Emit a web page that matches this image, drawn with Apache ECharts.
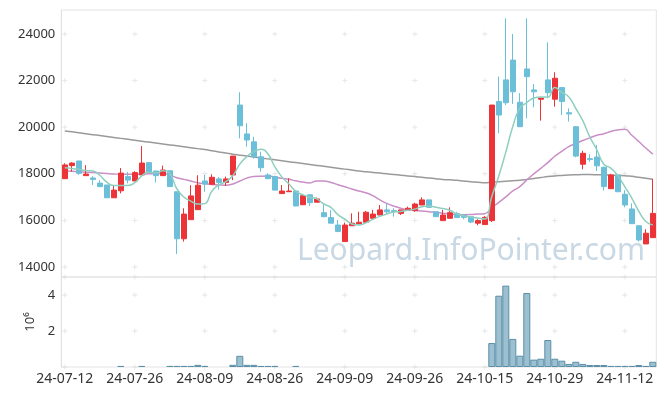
<!DOCTYPE html>
<html><head><meta charset="utf-8">
<script src="https://cdn.jsdelivr.net/npm/echarts@6.0.0/dist/echarts.min.js"></script>
<style>html,body{margin:0;padding:0;background:#fff}#c{width:665px;height:396px}</style>
</head><body><div id="c"></div>
<script>
const dates = ['24-07-12','24-07-15','24-07-16','24-07-17','24-07-18','24-07-19','24-07-22','24-07-23','24-07-24','24-07-25','24-07-26',
'24-07-29','24-07-30','24-07-31','24-08-01','24-08-02','24-08-05','24-08-06','24-08-07','24-08-08','24-08-09',
'24-08-12','24-08-13','24-08-14','24-08-16','24-08-19','24-08-20','24-08-21','24-08-22','24-08-23','24-08-26',
'24-08-27','24-08-28','24-08-29','24-08-30','24-09-02','24-09-03','24-09-04','24-09-05','24-09-06','24-09-09',
'24-09-10','24-09-11','24-09-12','24-09-13','24-09-19','24-09-20','24-09-23','24-09-24','24-09-25','24-09-26',
'24-09-27','24-09-30','24-10-02','24-10-04','24-10-07','24-10-08','24-10-10','24-10-11','24-10-14','24-10-15',
'24-10-16','24-10-17','24-10-18','24-10-21','24-10-22','24-10-23','24-10-24','24-10-25','24-10-28','24-10-29',
'24-10-30','24-10-31','24-11-01','24-11-04','24-11-05','24-11-06','24-11-07','24-11-08','24-11-11','24-11-12',
'24-11-13','24-11-14','24-11-15','24-11-18'];

const opens = [17790,18350,18550,17920,17820,17600,17520,16970,17270,17880,17690,17950,18480,18120,17920,18130,17230,15210,16030,16460,
17690,17550,17780,17630,17950,20950,19710,19370,18730,17950,17880,17150,17230,17260,16670,17100,16780,16330,16120,15800,
15090,15770,15850,15920,16090,16230,16450,16420,16300,16450,16420,16660,16880,16370,15990,16090,16300,16220,16160,15880,
15820,15990,21100,22030,22880,21070,22500,21600,21200,22030,21200,21700,20620,20020,18410,18650,18720,18280,17360,17950,
17120,16490,15770,14990,15260];
const closes = [18380,18460,18020,17990,17760,17450,16970,17300,18030,17730,18050,18460,18050,17920,18160,17450,15210,16270,17050,17510,
17560,17850,17630,17780,18760,20060,19450,18730,18260,17790,17300,17260,17260,16620,17060,16760,16920,16160,15880,15520,
15800,15880,15920,16350,16270,16450,16370,16380,16450,16520,16700,16880,16560,16160,16230,16330,16120,16130,15930,15990,
16130,20950,20520,21050,21520,20020,22170,21520,21250,21480,22100,21100,20570,18760,18880,18610,18340,17450,17950,17230,
16660,15860,15160,15450,16300];
const lows = [17790,18090,17950,17920,17520,17420,16970,16970,17160,17590,17690,17950,18050,17630,17920,17450,14560,15090,16030,16460,
17230,17550,17320,17480,17730,19520,19160,18650,18090,17790,17300,17150,17230,16600,16670,16620,16780,16130,15880,15520,
15090,15770,15830,15920,16090,16230,16300,16160,16230,16450,16370,16660,16560,16160,15990,16090,16120,16050,15880,15790,
15820,15930,19740,20950,21000,20020,20380,20850,20280,21240,20880,20520,20240,18710,18190,18520,18120,17280,17360,17230,
16560,15860,15090,14990,15250];
const highs = [18450,18500,18550,18370,17900,17730,17520,17480,18250,18080,18110,19190,18480,18120,18350,18130,17230,16520,17510,17940,
17950,17980,17860,17880,18760,21500,20170,19590,18950,18020,17880,17520,17810,17300,17060,17100,16980,16730,16450,16020,
15900,16300,16370,16400,16450,16660,16730,16520,16450,16590,16760,16990,16880,16370,16450,16560,16370,16270,16160,16050,
16180,20950,22170,24670,24000,21460,24670,21850,21250,23640,22360,21700,20810,20050,18990,18840,19240,18300,18000,17950,
17300,16730,15780,15620,17780];

const ma5 = [18260,18230,18190,18140,18122,17936,17638,17494,17502,17496,17616,17914,18064,18042,18128,18008,17358,17002,16828,16698,
16720,17248,17520,17666,17916,18416,18736,18956,19052,18858,18306,17868,17574,17246,17100,16992,16924,16704,16556,16248,
16056,15848,15800,15894,16044,16174,16272,16364,16384,16434,16484,16586,16622,16564,16506,16432,16280,16194,16148,16100,
16060,17026,17904,18928,20034,20812,21056,21256,21296,21288,21704,21490,21300,20802,20282,19584,19032,18408,18246,17916,
17448,16960,16392,15950,15800];
const ma20 = [18130,18110,18090,18070,18050,18030,18010,17990,17980,17980,17980,17990,18000,18010,18010,17950,17830,17760,17690,17611,
17570,17540,17520,17510,17560,17690,17814,17886,17897,17900,17863,17803,17763,17698,17643,17609,17694,17689,17630,17531,
17443,17344,17259,17187,17063,16882,16728,16611,16520,16457,16427,16408,16373,16350,16308,16287,16247,16245,16248,16271,
16288,16541,16771,17006,17269,17447,17737,17994,18234,18482,18752,18963,19164,19294,19426,19540,19651,19717,19818,19880,
19907,19652,19384,19104,18843];
const maLong = [19840,19800,19760,19720,19680,19640,19600,19560,19520,19480,19440,19400,19360,19320,19280,19240,19200,19160,19120,19080,
19040,18990,18940,18890,18840,18800,18760,18720,18680,18640,18600,18560,18520,18480,18440,18400,18360,18320,18280,18240,
18200,18160,18120,18090,18060,18030,18000,17970,17940,17910,17880,17850,17820,17790,17760,17740,17720,17690,17660,17640,
17620,17640,17660,17680,17700,17720,17760,17800,17840,17880,17910,17930,17950,17960,17965,17965,17960,17950,17940,17930,
17920,17890,17850,17810,17770];

const volumes = [0,0,0,0,0,0,0,0,0.06,0,0,0.06,0,0,0,0.06,0.06,0.06,0.06,0.12,
0.06,0,0,0,0.12,0.62,0.12,0.12,0.06,0.06,0.06,0,0,0.06,0,0,0,0,0,0,
0,0,0,0,0,0,0,0,0,0,0,0,0,0,0,0,0,0,0,0,
0,1.33,3.96,4.52,1.56,0.63,4.11,0.41,0.46,1.50,0.46,0.35,0.17,0.29,0.17,0.11,0.11,0.11,0.06,0.06,
0.06,0.06,0.11,0.06,0.29];

const priceTicks = [14000,16000,18000,20000,22000,24000];
const volTicks = [0,2,4,5];
const labelStep = 10;

const FONT = '"Noto Sans", sans-serif';
const candles = dates.map((d, i) => [opens[i], closes[i], lows[i], highs[i]]);
const volData = volumes.map(v => (v > 0 ? v : '-'));
const crossIdx = dates.map((d, i) => i).filter(i => i % labelStep === 0);
const crossMain = [], crossVol = [];
crossIdx.forEach(i => {
  priceTicks.forEach(v => crossMain.push([i, v]));
  volTicks.forEach(v => crossVol.push([i, v]));
});
const plus = 'path://M0,2.5H6V3.5H0Z M2.5,0H3.5V6H2.5Z';

const chart = echarts.init(document.getElementById('c'), null, {renderer: 'canvas'});
chart.setOption({
  animation: false,
  backgroundColor: '#fff',
  textStyle: {fontFamily: FONT},
  graphic: [{
    type: 'text', z: -10, silent: true,
    style: {x: 645, y: 251, text: 'Leopard.InfoPointer.com', align: 'right', verticalAlign: 'middle',
            font: '30px "Noto Sans", sans-serif', fill: '#c8d8e4'}
  }],
  grid: [
    {left: 61.3, top: 10, width: 595, height: 267, show: true, borderColor: '#e4e4e4', borderWidth: 1, outerBoundsMode: 'none', containLabel: false},
    {left: 61.3, top: 277, width: 595, height: 90, show: true, borderColor: '#e4e4e4', borderWidth: 1, outerBoundsMode: 'none', containLabel: false}
  ],
  xAxis: [
    {type: 'category', gridIndex: 0, data: dates, boundaryGap: true,
     axisLine: {show: false}, axisTick: {show: false}, axisLabel: {show: false}, splitLine: {show: false}},
    {type: 'category', gridIndex: 1, data: dates, boundaryGap: true,
     axisLine: {show: false}, axisTick: {show: false}, splitLine: {show: false},
     axisLabel: {interval: labelStep - 1, color: '#333', fontSize: 14, margin: 5, fontFamily: FONT}}
  ],
  yAxis: [
    {type: 'value', gridIndex: 0, min: 13570, max: 25030, splitNumber: 5, scale: true,
     axisLine: {show: true, lineStyle: {color: '#e0e0e0'}}, axisTick: {show: false}, splitLine: {show: false},
     axisLabel: {color: '#333', fontSize: 13, margin: 6, showMinLabel: false, showMaxLabel: false, fontFamily: FONT,
                 formatter: v => String(v)}},
    {type: 'value', gridIndex: 1, min: 0, max: 5, interval: 2,
     name: '10⁶', nameLocation: 'middle', nameRotate: 90, nameGap: 18,
     nameTextStyle: {color: '#333', fontSize: 13, fontFamily: FONT},
     axisLine: {show: true, lineStyle: {color: '#e0e0e0'}}, axisTick: {show: false}, splitLine: {show: false},
     axisLabel: {color: '#333', fontSize: 13, margin: 6, showMinLabel: false, showMaxLabel: false, fontFamily: FONT}}
  ],
  series: [
    {type: 'scatter', xAxisIndex: 0, yAxisIndex: 0, data: crossMain, symbol: plus, symbolSize: 5, silent: true, z: 1,
     itemStyle: {color: '#dcdcdc'}},
    {type: 'scatter', xAxisIndex: 1, yAxisIndex: 1, data: crossVol, symbol: plus, symbolSize: 5, silent: true, z: 1,
     itemStyle: {color: '#dcdcdc'}},
    {type: 'line', xAxisIndex: 0, yAxisIndex: 0, data: maLong, showSymbol: false, smooth: true, z: 3,
     lineStyle: {color: '#9a9a9a', width: 1.5}},
    {type: 'line', xAxisIndex: 0, yAxisIndex: 0, data: ma20, showSymbol: false, smooth: true, z: 3,
     lineStyle: {color: '#c98fc6', width: 1.5}},
    {type: 'candlestick', xAxisIndex: 0, yAxisIndex: 0, data: candles, barWidth: 5, z: 4,
     itemStyle: {color: '#ec3438', color0: '#6cbfd8', borderColor: '#ec3438', borderColor0: '#6cbfd8', borderWidth: 1}},
    {type: 'line', xAxisIndex: 0, yAxisIndex: 0, data: ma5, showSymbol: false, smooth: true, z: 5,
     lineStyle: {color: '#8fcfc0', width: 1.5}},
    {type: 'bar', xAxisIndex: 1, yAxisIndex: 1, data: volData, barCategoryGap: '0%', z: 3,
     itemStyle: {color: '#9cc0d0', borderColor: '#5b8fa8', borderWidth: 1}}
  ]
});
</script>
</body></html>
